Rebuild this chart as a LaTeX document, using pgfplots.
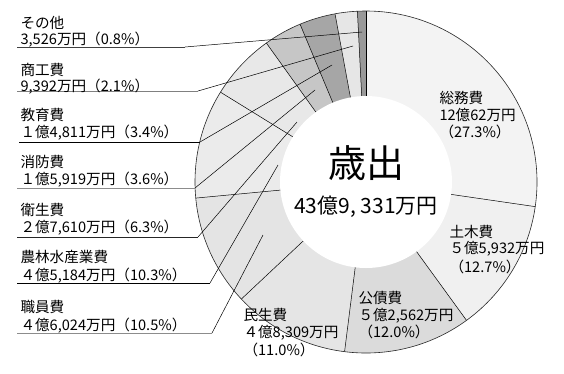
\documentclass[border=0pt]{standalone}
\usepackage{fontspec}
\setmainfont{Noto Sans CJK JP}
\usepackage{pgfplots}
\usepackage{pgfplotstable}
\pgfplotsset{compat=1.18}

% slices clockwise from 12 o'clock: percent of total expenditure
\pgfplotstableread{
key pct
somu 27.3
doboku 12.7
kosai 12.0
minsei 11.0
shokuin 10.5
norin 10.3
eisei 6.3
shobo 3.6
kyoiku 3.4
shoko 2.1
sonota 0.8
}\pietable

\definecolor{c0}{HTML}{F3F3F3}
\definecolor{c1}{HTML}{F0F0F0}
\definecolor{c2}{HTML}{DBDBDB}
\definecolor{c3}{HTML}{E5E5E5}
\definecolor{c4}{HTML}{E4E4E4}
\definecolor{c5}{HTML}{EBEBEB}
\definecolor{c6}{HTML}{E8E8E8}
\definecolor{c7}{HTML}{C6C6C6}
\definecolor{c8}{HTML}{A6A6A6}
\definecolor{c9}{HTML}{E6E6E6}
\definecolor{c10}{HTML}{999999}
\definecolor{txt}{HTML}{333333}

\newcommand{\lab}{\fontsize{14.6}{17}\selectfont}

\begin{document}
\begin{tikzpicture}
\useasboundingbox (0,0) rectangle (564pt,373pt);
\gdef\cum{0}
\foreach \i in {0,...,10}{%
  \pgfplotstablegetelem{\i}{pct}\of\pietable
  \pgfmathsetmacro\aS{90-3.6*\cum}%
  \pgfmathsetmacro\newcum{\cum+\pgfplotsretval}%
  \pgfmathsetmacro\aE{90-3.6*\newcum}%
  \expandafter\xdef\csname aS\i\endcsname{\aS}%
  \expandafter\xdef\csname aE\i\endcsname{\aE}%
  \xdef\cum{\newcum}%
}
\begin{axis}[
  width=564pt, height=373pt, scale only axis,
  xmin=0, xmax=564, ymin=0, ymax=373, y dir=reverse,
  hide axis, clip=false,
  every node/.style={inner sep=0pt, outer sep=0pt, text=txt},
]
% wedges
\pgfplotsinvokeforeach{0,...,10}{
  \fill[c#1] (axis cs:366,182) -- ++(\csname aS#1\endcsname:171pt)
    arc[start angle=\csname aS#1\endcsname, end angle=\csname aE#1\endcsname, radius=171pt] -- cycle;
}
\pgfplotsinvokeforeach{0,...,10}{
  \draw[black, line width=0.5pt] (axis cs:366,182) -- ++(\csname aS#1\endcsname:171pt);
}
\fill[white] (axis cs:366,182) circle[radius=86pt];
\draw[black!85, line width=0.6pt] (axis cs:366,182) circle[radius=171pt];

% left labels with underline and leader
\draw[black!75, line width=0.8pt] (axis cs:17,47) -- (axis cs:185,47);
\draw[black, line width=0.5pt] (axis cs:185,47) -- (axis cs:362,32);
\draw[black!50, line width=0.8pt] (axis cs:17,91) -- (axis cs:198,91);
\draw[black, line width=0.5pt] (axis cs:198,91) -- (axis cs:353,46);
\draw[black, line width=0.8pt] (axis cs:19,142) -- (axis cs:200,142);
\draw[black, line width=0.5pt] (axis cs:200,142) -- (axis cs:332,65);
\draw[black!45, line width=0.8pt] (axis cs:17,188) -- (axis cs:195,188);
\draw[black, line width=0.5pt] (axis cs:195,188) -- (axis cs:315,90);
\draw[black!85, line width=0.8pt] (axis cs:17,237) -- (axis cs:198,237);
\draw[black, line width=0.5pt] (axis cs:198,237) -- (axis cs:297,122);
\draw[black, line width=0.8pt] (axis cs:17,283) -- (axis cs:210,283);
\draw[black, line width=0.5pt] (axis cs:210,283) -- (axis cs:278,165);
\draw[black!45, line width=0.8pt] (axis cs:17,333) -- (axis cs:212,333);
\draw[black, line width=0.5pt] (axis cs:212,333) -- (axis cs:263,235);

\node[anchor=west] at (axis cs:17,23) {\lab その他};
\node[anchor=west] at (axis cs:17,40) {\lab 3,526万円（0.8\%）};
\node[anchor=west] at (axis cs:17,70) {\lab 商工費};
\node[anchor=west] at (axis cs:17,87) {\lab 9,392万円（2.1\%）};
\node[anchor=west] at (axis cs:17,115) {\lab 教育費};
\node[anchor=west] at (axis cs:17,133) {\lab １億4,811万円（3.4\%）};
\node[anchor=west] at (axis cs:17,162) {\lab 消防費};
\node[anchor=west] at (axis cs:17,180) {\lab １億5,919万円（3.6\%）};
\node[anchor=west] at (axis cs:17,210) {\lab 衛生費};
\node[anchor=west] at (axis cs:17,228) {\lab ２億7,610万円（6.3\%）};
\node[anchor=west] at (axis cs:17,257) {\lab 農林水産業費};
\node[anchor=west] at (axis cs:17,276) {\lab ４億5,184万円（10.3\%）};
\node[anchor=west] at (axis cs:17,307) {\lab 職員費};
\node[anchor=west] at (axis cs:17,326) {\lab ４億6,024万円（10.5\%）};

% right / bottom labels
\node[anchor=west] at (axis cs:436,98) {\lab 総務費};
\node[anchor=west] at (axis cs:436,115) {\lab 12億62万円};
\node[anchor=west] at (axis cs:436,132) {\lab （27.3\%）};
\node[anchor=west] at (axis cs:446,232) {\lab 土木費};
\node[anchor=west] at (axis cs:446,249) {\lab ５億5,932万円};
\node[anchor=west] at (axis cs:446,267) {\lab （12.7\%）};
\node[anchor=west] at (axis cs:355,298) {\lab 公債費};
\node[anchor=west] at (axis cs:355,316) {\lab ５億2,562万円};
\node[anchor=west] at (axis cs:355,332) {\lab （12.0\%）};
\node[anchor=west] at (axis cs:240,315) {\lab 民生費};
\node[anchor=west] at (axis cs:240,333) {\lab ４億8,309万円};
\node[anchor=west] at (axis cs:240,350) {\lab （11.0\%）};

% centre
\node[text=black] at (axis cs:366,163) {\fontsize{38}{42}\selectfont 歳出};
\node[text=black] at (axis cs:366,207) {\fontsize{21}{24}\selectfont 43億9, 331万円};
\end{axis}
\end{tikzpicture}
\end{document}
